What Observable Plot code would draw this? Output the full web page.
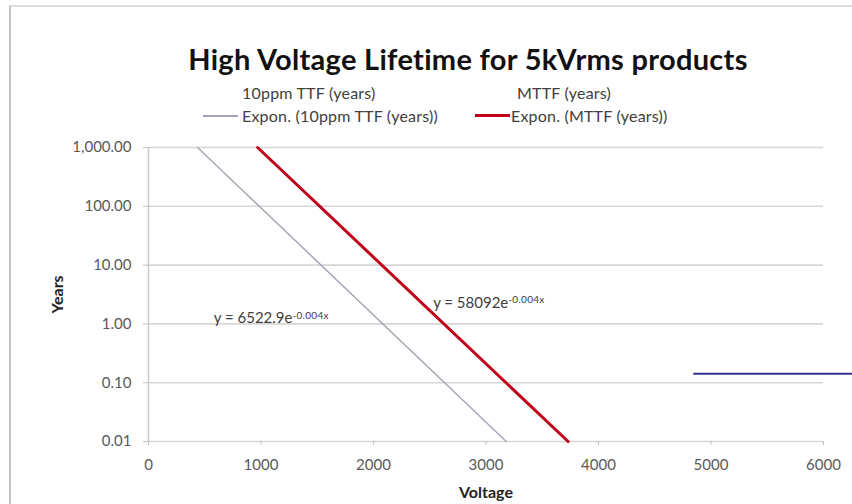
<!DOCTYPE html>
<html>
<head>
<meta charset="utf-8">
<script src="https://cdn.jsdelivr.net/npm/d3@7"></script>
<script src="https://cdn.jsdelivr.net/npm/@observablehq/plot@0.6"></script>
<style>
  html, body { margin: 0; padding: 0; background: #fff; }
  #wrap { position: relative; width: 852px; height: 504px; overflow: hidden; font-family: Lato, "Open Sans", sans-serif; }
  #frame { position: absolute; left: 9px; top: 5px; right: -10px; bottom: -10px; border-left: 2px solid #c4c4c4; border-top: 2px solid #dedede; }
  #title { position: absolute; left: 468px; top: 43px; transform: translateX(-50%); white-space: nowrap; font-weight: bold; font-size: 29px; letter-spacing: 0.3px; line-height: 32px; color: #111; }
  .leg { position: absolute; white-space: nowrap; font-size: 16px; letter-spacing: 0.2px; line-height: 18px; color: #404040; }
  .sw { position: absolute; }
  #chart { position: absolute; left: 0; top: 130px; }
</style>
</head>
<body>
<div id="wrap">
  <div id="frame"></div>
  <div id="title"></div>
  <div id="legend"></div>
  <div id="chart"></div>
</div>
<script>
// ---- data ----
const title = "High Voltage Lifetime for 5kVrms products";
const xTicks = [0, 1000, 2000, 3000, 4000, 5000, 6000];
const yTicks = [0.01, 0.1, 1, 10, 100, 1000];
const xLabel = "Voltage";
const yLabel = "Years";

// trendline endpoints (Voltage, Years)
const ttfName = "Expon. (10ppm TTF (years))";
const ttfVoltage = [436, 3180];
const ttfYears = [1000, 0.01];

const mttfName = "Expon. (MTTF (years))";
const mttfVoltage = [970, 3730];
const mttfYears = [1000, 0.01];

// dark horizontal series on the right
const otherVoltage = [4850, 6300];
const otherYears = [0.142, 0.142];

// equation labels
const eqText = ["y = 6522.9e^-0.004x", "y = 58092e^-0.004x"];
const eqVoltage = [580, 2530];
const eqYears = [1.26, 2.28];

const legendRow1 = ["10ppm TTF (years)", "MTTF (years)"];
const legendRow2 = [ttfName, mttfName];

// ---- header ----
document.getElementById("title").textContent = title;
const legend = document.getElementById("legend");
function addText(txt, left, top) {
  const d = document.createElement("div");
  d.className = "leg"; d.textContent = txt;
  d.style.left = left + "px"; d.style.top = top + "px";
  legend.appendChild(d);
}
function addSwatch(color, w, h, left, top) {
  const d = document.createElement("div");
  d.className = "sw";
  d.style.left = left + "px"; d.style.top = top + "px";
  d.style.width = w + "px"; d.style.height = h + "px";
  d.style.background = color;
  legend.appendChild(d);
}
addText(legendRow1[0], 242, 84);
addText(legendRow1[1], 517, 84);
addSwatch("#a4a4b4", 35, 1.5, 203, 115);
addText(legendRow2[0], 242, 107);
addSwatch("#c0001a", 35, 3, 475, 114);
addText(legendRow2[1], 511, 107);

// ---- chart ----
const toRows = (xs, ys) => xs.map((x, i) => ({x, y: ys[i]}));
const ttf = toRows(ttfVoltage, ttfYears);
const mttf = toRows(mttfVoltage, mttfYears);
const other = toRows(otherVoltage, otherYears);
const eqs = eqText.map((t, i) => ({t, x: eqVoltage[i], y: eqYears[i]}));

const chart = Plot.plot({
  width: 852,
  height: 374,
  marginLeft: 148,
  marginRight: 29,
  marginTop: 17,
  marginBottom: 63,
  style: {fontFamily: "Lato, 'Open Sans', sans-serif", fontSize: "15px", background: "transparent", overflow: "visible"},
  x: {domain: [0, 6000], ticks: xTicks},
  y: {type: "log", domain: [0.01, 1000], ticks: yTicks},
  marks: [
    Plot.gridY(yTicks, {stroke: "#d6d6d6", strokeOpacity: 1, strokeWidth: 1.6}),
    Plot.ruleX([0], {stroke: "#c8c8c8", strokeWidth: 1.5}),
    Plot.axisY(yTicks, {tickFormat: d3.format(",.2f"), tickSize: 5, tickPadding: 12, stroke: "#c0c0c0", fill: "#595959", fontSize: 15, label: null}),
    Plot.axisX(xTicks, {tickFormat: d3.format("d"), tickSize: 4, tickPadding: 14, stroke: "#c0c0c0", fill: "#595959", fontSize: 15, label: null}),
    Plot.line(ttf, {x: "x", y: "y", stroke: "#a6a6b6", strokeWidth: 1.5}),
    Plot.line(mttf, {x: "x", y: "y", stroke: "#c0001a", strokeWidth: 3}),
    Plot.line(other, {x: "x", y: "y", stroke: "#33338c", strokeWidth: 2.2, clip: false}),
    Plot.text(eqs, {x: "x", y: "y", text: "t", textAnchor: "start", fill: "#404040", fontSize: 15}),
    Plot.text([yLabel], {frameAnchor: "left", dx: -91, rotate: -90, textAnchor: "middle", lineAnchor: "middle", fontWeight: "bold", fontSize: 16, fill: "#222"}),
    Plot.text([xLabel], {frameAnchor: "bottom", dy: 51, textAnchor: "middle", lineAnchor: "middle", fontWeight: "bold", fontSize: 16, fill: "#222"})
  ]
});
document.getElementById("chart").appendChild(chart);

// superscript exponents in equation labels
d3.select(chart).selectAll("text").each(function() {
  const t = this.textContent;
  if (t.includes("^")) {
    const [base, exp] = t.split("^");
    this.textContent = base;
    d3.select(this).append("tspan").attr("dy", "-0.42em").attr("font-size", "10px").attr("letter-spacing", "0.3px").text(exp);
  }
});
</script>
</body>
</html>
